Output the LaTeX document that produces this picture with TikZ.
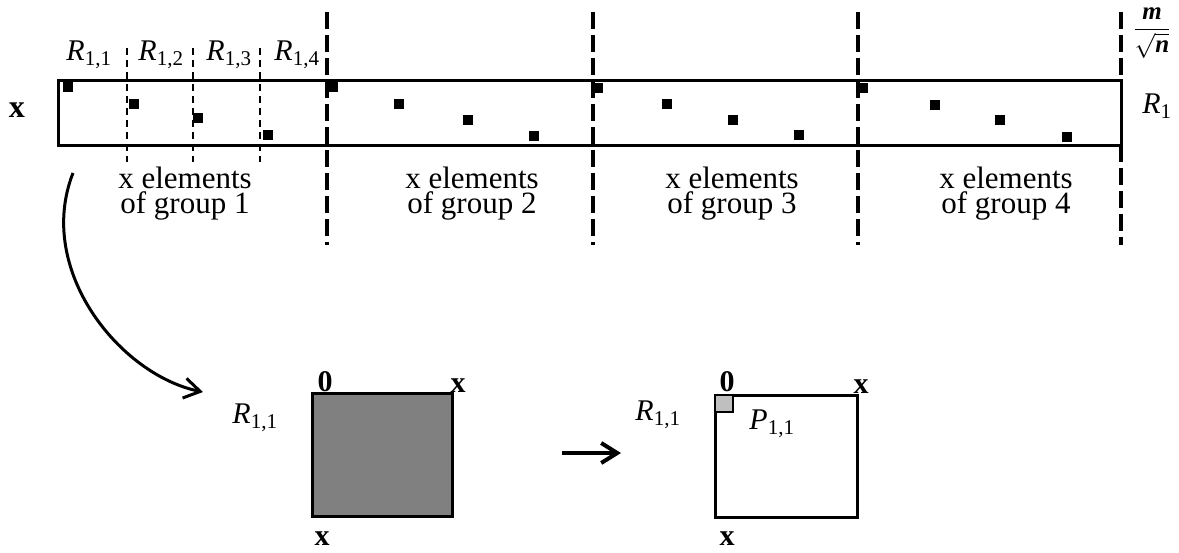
\documentclass[tikz,border=0pt]{standalone}
\usepackage{fontspec}
\setmainfont{Liberation Serif}
\usetikzlibrary{arrows.meta}
\newcommand{\Rs}[1]{\textit{R}\textsubscript{#1}}
\begin{document}
\begin{tikzpicture}[x=1pt,y=-1pt,
  lab/.style={inner sep=0pt, anchor=base, font=\fontsize{30}{32}\selectfont},
  grp/.style={inner sep=0pt, anchor=north, align=center, font=\fontsize{31}{24.5}\selectfont},
  bx/.style={inner sep=0pt, anchor=base, font=\bfseries\fontsize{30}{32}\selectfont},
  bigdash/.style={line width=3.5pt, dash pattern=on 17pt off 6pt},
  smalldash/.style={line width=2.2pt, dash pattern=on 7pt off 5pt},
  elem/.style={fill=black, draw=none, minimum size=10pt, inner sep=0pt},
  frame/.style={line width=3pt},
  arr/.style={line width=3pt, -{Straight Barb[length=16pt,width=20pt,line width=3pt]}}]
\useasboundingbox (0,0) rectangle (1179,552);

% main strip
\draw[frame] (58,80) rectangle (1121,145);

% group separators
\foreach \gx in {327,593,858} {\draw[bigdash] (\gx,12) -- (\gx,245);}
\draw[bigdash] (1121,12) -- (1121,80);
\draw[bigdash] (1121,145) -- (1121,245);

% sub-block separators of group 1
\foreach \sx in {127,193,260} {\draw[smalldash] (\sx,48) -- (\sx,162);}

% labels above
\node[lab] (r11) at (89,60) {\Rs{1,1}};
\node[lab] (r12) at (161,60) {\Rs{1,2}};
\node[lab] (r13) at (229,60) {\Rs{1,3}};
\node[lab] (r14) at (297,60) {\Rs{1,4}};
\node[bx, font=\bfseries\fontsize{32}{34}\selectfont] (xl) at (17,117) {x};
\node[lab] (r1) at (1157,113) {\Rs{1}};
\node[inner sep=0pt, font=\fontsize{25}{27}\selectfont] (mn) at (1152,33)
  {$\displaystyle\frac{\mbox{\bfseries\itshape m}}{\sqrt{\mbox{\bfseries\itshape n}}}$};

% elements
\foreach \ex/\ey [count=\i] in {68/87,134/104,198/118,268/135,
  333/87,399/104,468/120,534/136,
  598/88,667/104,733/120,799/135,
  863/88,935/105,1000/120,1067/137}
  {\node[elem] (e\i) at (\ex,\ey) {};}

% group captions
\node[grp] (g1) at (185,167) {x elements\\of group 1};
\node[grp] (g2) at (472,167) {x elements\\of group 2};
\node[grp] (g3) at (732,167) {x elements\\of group 3};
\node[grp] (g4) at (1006,167) {x elements\\of group 4};

% curved arrow
\coordinate (c0) at (73,173);
\coordinate (c1) at (203,392);
\draw[arr] (c0) .. controls (35,270) and (120,375) .. (c1);

% first matrix
\draw[frame, fill=black!50] (312,393) rectangle (452,516);
\node[lab] (ra) at (255,423) {\Rs{1,1}};
\node[bx] (z1) at (325,391) {0};
\node[bx] (x1) at (458,392) {x};
\node[bx] (y1) at (322,545) {x};

% middle arrow
\coordinate (m0) at (562,453);
\coordinate (m1) at (621,453);
\draw[line width=4pt, -{Straight Barb[length=16pt,width=20pt,line width=4pt]}] (m0) -- (m1);

% second matrix
\draw[frame] (715,395) rectangle (857,517);
\draw[line width=2.5pt, fill=black!25] (715,395) rectangle (733,412);
\node[lab] (rb) at (658,420) {\Rs{1,1}};
\node[lab] (p11) at (772,429) {\textit{P}\textsubscript{1,1}};
\node[bx] (z2) at (727,391) {0};
\node[bx] (x2) at (861,393) {x};
\node[bx] (y2) at (727,545) {x};
\end{tikzpicture}
\end{document}
